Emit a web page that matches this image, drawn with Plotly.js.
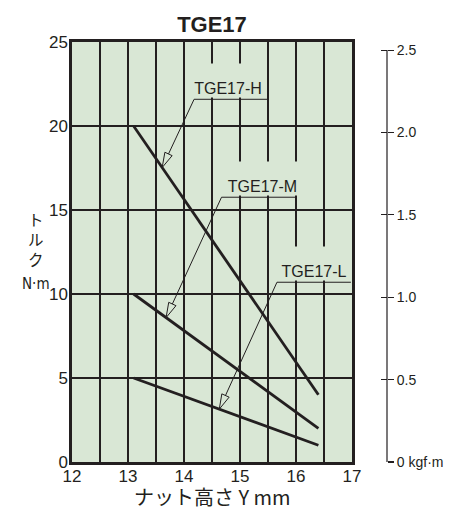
<!DOCTYPE html>
<html><head><meta charset="utf-8">
<script src="https://cdn.plot.ly/plotly-3.0.1.min.js"></script>
<style>html,body{margin:0;padding:0;background:#fff}#chart{width:460px;height:520px}</style>
</head><body><div id="chart"></div>
<script>
// ---- data ----
const seriesNames = ['TGE17-H', 'TGE17-M', 'TGE17-L'];
const nutHeight = [13.1, 16.4];          // Y mm
const torqueH = [20, 4];                 // N·m
const torqueM = [10, 2];
const torqueL = [5, 1];
const xTickVals = [12, 13, 14, 15, 16, 17];
const yTickVals = [0, 5, 10, 15, 20, 25];
const kgfTickVals = [0, 0.5, 1, 1.5, 2, 2.5];
const kgfTickText = ['0 kgf·m', '0.5', '1.0', '1.5', '2.0', '2.5'];
const arrowTipX = [13.61, 13.68, 14.63]; // where each label's arrow touches its line
const KGF = 9.80665;                     // N·m per kgf·m

// ---- layout placement ----
const W = 460, H = 520;
const M = {l: 72, r: 73, t: 42, b: 58};
const plotW = 280, plotH = H - M.t - M.b;
const paperW = W - M.l - M.r;
const xDomainEnd = plotW / paperW;
const xRange = [12, 17], yRange = [0, 25];
const SX = plotW / (xRange[1] - xRange[0]);
const SY = plotH / (yRange[1] - yRange[0]);
const labelPlace = [
  {cx: 14.786, uy: 21.59, ux0: 14.18, ux1: 15.5, w: 70},
  {cx: 15.402, uy: 15.76, ux0: 14.67, ux1: 16.0, w: 73},
  {cx: 16.321, uy: 10.70, ux0: 15.66, ux1: 16.98, w: 66}
];
const BG = '#d9e7d5', INK = '#231f20';
const SANS = 'Liberation Sans, Arial, Helvetica, sans-serif';
const NARROW = 'Liberation Sans Narrow, Arial Narrow, DejaVu Sans Condensed, Liberation Sans, sans-serif';
const CJK = 'Noto Sans CJK JP, Noto Sans, sans-serif';

const series = [torqueH, torqueM, torqueL];
const traces = series.map((ys, i) => ({
  type: 'scatter', mode: 'lines', x: nutHeight, y: ys, name: seriesNames[i],
  line: {color: INK, width: 2.8}, hoverinfo: 'skip', showlegend: false
}));
traces.push({type: 'scatter', mode: 'lines', x: [null], y: [null], yaxis: 'y2', showlegend: false, hoverinfo: 'skip'});
traces.push({type: 'scatter', mode: 'lines', x: [null], y: [null], yaxis: 'y3', showlegend: false, hoverinfo: 'skip'});

function interp(xs, ys, x) {
  const t = (x - xs[0]) / (xs[1] - xs[0]);
  return ys[0] + t * (ys[1] - ys[0]);
}

const shapes = [];
const annotations = [];
labelPlace.forEach((p, i) => {
  const tx = arrowTipX[i];
  const ty = interp(nutHeight, series[i], tx);
  shapes.push({type: 'line', xref: 'x', yref: 'y', x0: p.ux0, x1: p.ux1, y0: p.uy, y1: p.uy,
    line: {color: INK, width: 1}});
  const dx = (p.ux0 - tx) * SX, dy = (p.uy - ty) * SY;
  const len = Math.hypot(dx, dy);
  const ux = dx / len, uy = dy / len;
  const px = -uy, py = ux;
  const hl = 15, hw = 4;
  const bx = ux * hl, by = uy * hl;
  shapes.push({type: 'path', xref: 'x', yref: 'y', xsizemode: 'pixel', ysizemode: 'pixel',
    xanchor: tx, yanchor: ty,
    path: `M${bx.toFixed(2)},${by.toFixed(2)} L${dx.toFixed(2)},${dy.toFixed(2)}`,
    line: {color: INK, width: 1}});
  shapes.push({type: 'path', xref: 'x', yref: 'y', xsizemode: 'pixel', ysizemode: 'pixel',
    xanchor: tx, yanchor: ty,
    path: `M0,0 L${(bx + px * hw).toFixed(2)},${(by + py * hw).toFixed(2)} L${(bx - px * hw).toFixed(2)},${(by - py * hw).toFixed(2)} Z`,
    fillcolor: BG, line: {color: INK, width: 1}});
  annotations.push({text: seriesNames[i], xref: 'x', yref: 'y', x: p.cx, y: p.uy,
    xanchor: 'center', yanchor: 'bottom', yshift: 1, showarrow: false,
    width: p.w, height: 33, valign: 'bottom', bgcolor: BG, borderpad: 0,
    font: {family: SANS, size: 16, color: INK}});
});

shapes.push({type: 'line', xref: 'paper', yref: 'y', x0: 1, x1: 1, y0: 0, y1: 2.5 * KGF,
  line: {color: INK, width: 1.2}});

// vertical y-axis title (stacked kana) and unit
annotations.push({text: 'ト<br>ル<br>ク', xref: 'paper', yref: 'paper', x: (36 - M.l) / paperW,
  y: (H - M.b - 239) / plotH, xanchor: 'center', yanchor: 'middle', showarrow: false,
  font: {family: CJK, size: 15.5, color: INK}});
annotations.push({text: 'N·m', xref: 'paper', yref: 'paper', x: (35.5 - M.l) / paperW,
  y: (H - M.b - 284) / plotH, xanchor: 'center', yanchor: 'middle', showarrow: false,
  font: {family: NARROW, size: 15, color: INK}});
annotations.push({text: 'ナット高さ Y mm', xref: 'paper', yref: 'paper', x: xDomainEnd / 2,
  y: (H - M.b - 496) / plotH, xanchor: 'center', yanchor: 'middle', showarrow: false,
  font: {family: CJK, size: 20, color: INK}});

const rightAxisBase = {
  overlaying: 'y', side: 'right', anchor: 'free', position: 1,
  range: [0, yRange[1] / KGF], showgrid: false, zeroline: false, showline: false,
  tickmode: 'array', tickvals: kgfTickVals, ticktext: kgfTickText,
  ticklen: 6, tickwidth: 1.2, tickcolor: INK,
  tickfont: {family: SANS, size: 14, color: INK}, fixedrange: true
};

const layout = {
  width: W, height: H, margin: M,
  paper_bgcolor: '#ffffff', plot_bgcolor: BG,
  showlegend: false,
  title: {text: '<b>TGE17</b>', xref: 'container', yref: 'container',
    x: 212 / W, y: 1 - 24 / H, xanchor: 'center', yanchor: 'middle',
    font: {family: SANS, size: 22, color: INK}},
  xaxis: {
    domain: [0, xDomainEnd], range: xRange, tickmode: 'array', tickvals: xTickVals,
    showgrid: true, gridcolor: INK, gridwidth: 1.1,
    minor: {dtick: 0.5, showgrid: true, gridcolor: INK, gridwidth: 1.1, ticks: ''},
    showline: true, linecolor: INK, linewidth: 2.6, mirror: true,
    ticks: '', ticklabelstandoff: -3, zeroline: false,
    tickfont: {family: SANS, size: 17, color: INK}, fixedrange: true
  },
  yaxis: {
    range: yRange, tickmode: 'array', tickvals: yTickVals,
    showgrid: true, gridcolor: INK, gridwidth: 1.1,
    showline: true, linecolor: INK, linewidth: 2.6, mirror: true,
    ticks: '', ticklabelstandoff: -2, zeroline: false,
    tickfont: {family: SANS, size: 17, color: INK}, fixedrange: true
  },
  yaxis2: Object.assign({}, rightAxisBase, {ticks: 'outside'}),
  yaxis3: Object.assign({}, rightAxisBase, {ticks: 'inside', showticklabels: false}),
  shapes: shapes,
  annotations: annotations
};

Plotly.newPlot('chart', traces, layout, {staticPlot: true, displayModeBar: false});
</script>
</body></html>
